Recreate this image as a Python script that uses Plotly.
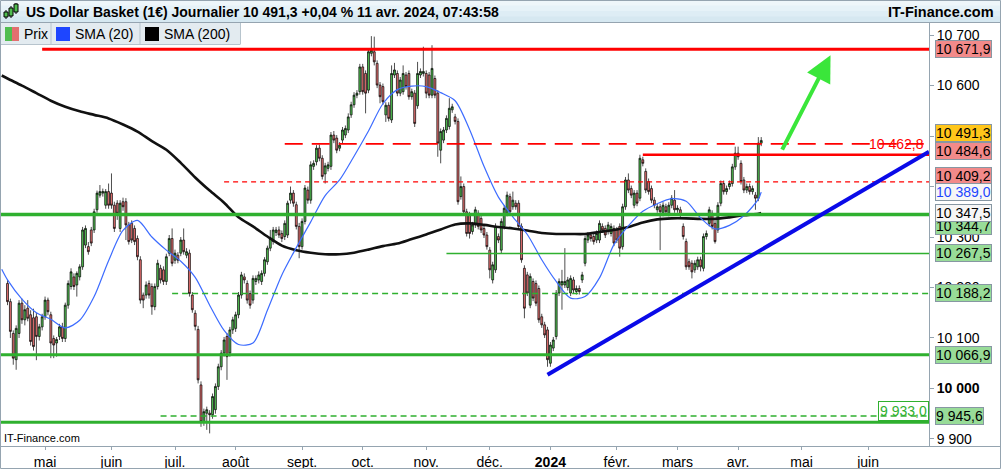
import pandas as pd
import plotly.graph_objects as go

# ---------------- data ----------------
FIRST_DAY = "2023-04-12"
LAST_DAY = "2024-04-11"
X_RANGE = ["2023-04-07 09:36", "2024-07-02 02:24"]
Y_RANGE = [9886, 10724]

open_ = [
    10208, 10172, 10109, 10057, 10109, 10169, 10136, 10159, 10146, 10140,
    10142, 10103, 10122, 10142, 10175, 10146, 10099, 10090, 10103, 10122,
    10099, 10165, 10202, 10221, 10205, 10221, 10241, 10284, 10281, 10314,
    10314, 10354, 10383, 10387, 10363, 10390, 10387, 10363, 10367, 10317,
    10370, 10370, 10324, 10327, 10317, 10297, 10255, 10185, 10185, 10208,
    10202, 10162, 10202, 10238, 10235, 10212, 10268, 10297, 10254, 10264,
    10268, 10294, 10264, 10268, 10185, 10149, 10117, 10007, 9934, 9951,
    9951, 9948, 9958, 10004, 10043, 10070, 10103, 10070, 10116, 10119,
    10146, 10185, 10221, 10208, 10188, 10175, 10212, 10215, 10212,
    10228, 10251, 10278, 10291, 10309, 10314, 10307, 10301, 10304, 10373,
    10387, 10364, 10321, 10281, 10331, 10393, 10373, 10440, 10449, 10476,
    10456, 10425, 10436, 10440, 10502, 10496, 10476, 10492, 10502, 10512,
    10542, 10562, 10581, 10588, 10637, 10624, 10591, 10664, 10667, 10644,
    10601, 10598, 10542, 10561, 10532, 10621, 10624, 10585, 10588, 10621,
    10624, 10578, 10585, 10560, 10621, 10624, 10624, 10621, 10581, 10614,
    10585, 10472, 10492, 10512, 10519, 10552, 10538, 10529, 10380, 10400,
    10350, 10344, 10311, 10324, 10347, 10337, 10317, 10304, 10274, 10215,
    10235, 10301, 10274, 10321, 10347, 10380, 10360, 10367, 10367, 10321,
    10238, 10225, 10165, 10212, 10208, 10198, 10142, 10126, 10116, 10050,
    10080, 10103, 10189, 10205, 10205, 10200, 10189, 10215, 10192, 10198,
    10215, 10248, 10294, 10304, 10301, 10294, 10294, 10321, 10317, 10311,
    10307, 10317, 10314, 10321, 10281, 10360, 10413, 10396, 10363, 10387,
    10377, 10453, 10430, 10410, 10396, 10373, 10354, 10360, 10347, 10360,
    10347, 10363, 10373, 10354, 10354, 10321, 10291, 10251, 10248, 10235,
    10241, 10255, 10238, 10301, 10327, 10347, 10327, 10314, 10367, 10406,
    10390, 10400, 10406, 10439, 10466, 10446, 10413, 10393, 10400, 10390,
    10383, 10377, 10486,
]
high = [
    10215, 10178, 10115, 10125, 10175, 10178, 10165, 10175, 10155, 10158,
    10150, 10128, 10148, 10182, 10180, 10152, 10105, 10102, 10128, 10130,
    10170, 10214, 10238, 10228, 10232, 10246, 10320, 10323, 10290, 10320,
    10356, 10392, 10403, 10396, 10395, 10406, 10426, 10370, 10373, 10373,
    10378, 10377, 10330, 10333, 10323, 10303, 10262, 10190, 10212, 10214,
    10208, 10208, 10255, 10245, 10242, 10267, 10304, 10317, 10275, 10270,
    10300, 10317, 10278, 10275, 10191, 10155, 10124, 10014, 9960, 9964,
    9957, 9990, 10010, 10049, 10076, 10102, 10110, 10122, 10142, 10152,
    10191, 10231, 10228, 10214, 10194, 10224, 10224, 10232, 10234,
    10260, 10283, 10314, 10320, 10320, 10321, 10313, 10333, 10372, 10400,
    10393, 10370, 10328, 10337, 10403, 10400, 10450, 10452, 10482, 10483,
    10462, 10447, 10449, 10508, 10510, 10502, 10488, 10518, 10521, 10545,
    10568, 10587, 10591, 10643, 10643, 10630, 10673, 10698, 10697, 10650,
    10607, 10604, 10567, 10567, 10640, 10645, 10630, 10617, 10640, 10627,
    10630, 10594, 10591, 10647, 10634, 10677, 10630, 10627, 10680, 10620,
    10591, 10515, 10518, 10541, 10575, 10564, 10544, 10535, 10420, 10406,
    10356, 10350, 10330, 10360, 10353, 10343, 10323, 10310, 10280, 10251,
    10327, 10307, 10337, 10363, 10390, 10386, 10390, 10373, 10373, 10327,
    10244, 10231, 10228, 10218, 10214, 10204, 10148, 10132, 10122, 10092,
    10102, 10195, 10218, 10235, 10278, 10221, 10224, 10221, 10204, 10204,
    10231, 10303, 10310, 10310, 10307, 10313, 10333, 10327, 10323, 10330,
    10327, 10323, 10320, 10327, 10366, 10419, 10426, 10402, 10393, 10393,
    10463, 10459, 10436, 10416, 10402, 10379, 10366, 10366, 10369, 10366,
    10369, 10383, 10393, 10363, 10360, 10327, 10297, 10257, 10254, 10254,
    10261, 10261, 10307, 10313, 10360, 10353, 10333, 10369, 10412, 10412,
    10402, 10412, 10445, 10479, 10479, 10452, 10419, 10406, 10406, 10402,
    10389, 10498, 10498,
]
low = [
    10165, 10100, 10047, 10037, 10100, 10128, 10125, 10133, 10085, 10075,
    10056, 10095, 10115, 10136, 10145, 10060, 10060, 10063, 10096, 10092,
    10092, 10158, 10196, 10195, 10182, 10214, 10235, 10278, 10265, 10282,
    10308, 10348, 10378, 10380, 10356, 10356, 10356, 10310, 10334, 10310,
    10352, 10294, 10285, 10288, 10284, 10254, 10168, 10159, 10178, 10178,
    10146, 10155, 10196, 10208, 10205, 10205, 10262, 10242, 10247, 10248,
    10262, 10265, 10258, 10182, 10150, 10115, 10010, 9924, 9926, 9918,
    9911, 9940, 9950, 9997, 10036, 10063, 10017, 10063, 10108, 10112,
    10139, 10178, 10208, 10168, 10158, 10168, 10205, 10208, 10205,
    10222, 10245, 10272, 10285, 10302, 10298, 10290, 10294, 10298, 10366,
    10360, 10315, 10258, 10275, 10325, 10366, 10366, 10433, 10442, 10450,
    10414, 10406, 10430, 10433, 10486, 10466, 10470, 10486, 10496, 10506,
    10536, 10556, 10575, 10582, 10582, 10545, 10585, 10658, 10640, 10595,
    10565, 10562, 10528, 10529, 10526, 10615, 10579, 10579, 10582, 10592,
    10572, 10572, 10518, 10554, 10615, 10618, 10575, 10575, 10575, 10575,
    10459, 10446, 10486, 10506, 10513, 10546, 10523, 10364, 10374, 10344,
    10301, 10297, 10305, 10318, 10315, 10308, 10298, 10275, 10218, 10208,
    10229, 10288, 10268, 10315, 10341, 10344, 10354, 10354, 10315, 10249,
    10139, 10183, 10159, 10173, 10163, 10130, 10120, 10100, 10043, 10043,
    10074, 10097, 10183, 10156, 10199, 10194, 10183, 10189, 10186, 10186,
    10209, 10242, 10288, 10291, 10285, 10288, 10288, 10308, 10298, 10305,
    10301, 10282, 10288, 10261, 10275, 10354, 10387, 10377, 10357, 10361,
    10371, 10440, 10387, 10384, 10367, 10357, 10348, 10274, 10341, 10344,
    10341, 10357, 10348, 10348, 10338, 10295, 10235, 10235, 10218, 10229,
    10235, 10232, 10232, 10295, 10321, 10315, 10287, 10308, 10361, 10384,
    10384, 10394, 10400, 10433, 10453, 10404, 10387, 10387, 10384, 10384,
    10354, 10371, 10480,
]
close = [
    10172, 10113, 10060, 10119, 10169, 10136, 10156, 10139, 10093, 10083,
    10103, 10122, 10142, 10175, 10152, 10090, 10086, 10097, 10122, 10099,
    10165, 10208, 10231, 10202, 10228, 10241, 10314, 10317, 10271, 10288,
    10350, 10387, 10390, 10390, 10390, 10363, 10363, 10317, 10347, 10367,
    10360, 10324, 10291, 10294, 10291, 10261, 10175, 10175, 10205, 10185,
    10162, 10202, 10248, 10215, 10212, 10261, 10297, 10248, 10268, 10254,
    10294, 10271, 10271, 10188, 10156, 10123, 10017, 9934, 9954, 9958,
    9948, 9984, 10004, 10043, 10070, 10096, 10063, 10116, 10136, 10146,
    10185, 10225, 10215, 10175, 10165, 10218, 10218, 10225, 10228,
    10255, 10278, 10297, 10314, 10314, 10304, 10297, 10327, 10367, 10387,
    10367, 10321, 10281, 10331, 10397, 10373, 10443, 10446, 10476, 10456,
    10420, 10441, 10443, 10502, 10492, 10472, 10482, 10512, 10515, 10538,
    10562, 10581, 10585, 10637, 10588, 10585, 10667, 10670, 10647, 10601,
    10578, 10568, 10561, 10535, 10624, 10631, 10585, 10611, 10624, 10598,
    10578, 10588, 10525, 10624, 10628, 10628, 10585, 10581, 10634, 10581,
    10486, 10509, 10512, 10535, 10555, 10558, 10529, 10370, 10400, 10350,
    10307, 10307, 10324, 10354, 10321, 10314, 10304, 10281, 10235, 10245,
    10321, 10294, 10331, 10357, 10383, 10350, 10373, 10360, 10321, 10255,
    10159, 10189, 10222, 10179, 10169, 10136, 10126, 10106, 10057, 10086,
    10096, 10189, 10212, 10212, 10212, 10215, 10218, 10195, 10198, 10192,
    10225, 10297, 10304, 10297, 10291, 10307, 10327, 10314, 10304, 10324,
    10321, 10288, 10294, 10278, 10360, 10413, 10393, 10383, 10387, 10367,
    10456, 10446, 10393, 10390, 10373, 10363, 10360, 10350, 10363, 10350,
    10363, 10377, 10354, 10357, 10344, 10301, 10241, 10241, 10231, 10248,
    10255, 10241, 10301, 10307, 10354, 10321, 10291, 10363, 10406, 10390,
    10396, 10406, 10439, 10466, 10459, 10410, 10393, 10400, 10390, 10396,
    10377, 10486, 10491.3,
]

# moving averages (weekly samples)
SMA_FIRST = "2023-04-10"
sma20 = [
    10236, 10215, 10177, 10150, 10137, 10120, 10135, 10182, 10253, 10313,
    10333, 10300, 10274, 10252, 10220, 10165, 10115, 10087, 10090, 10155,
    10225, 10279, 10330, 10382, 10413, 10460, 10510, 10564, 10592, 10599,
    10598, 10586, 10570, 10513, 10440, 10379, 10340, 10305, 10255, 10212,
    10179, 10182, 10219, 10285, 10322, 10351, 10366, 10376, 10371, 10338,
    10316, 10323, 10342, 10375, 10389.0,
]
sma200 = [
    10620, 10614, 10600, 10585, 10570, 10558, 10549, 10542, 10535, 10523,
    10509, 10490, 10473, 10447, 10418, 10392, 10368, 10339, 10321, 10301,
    10283, 10274, 10269, 10266, 10266, 10269, 10275, 10282, 10287, 10296,
    10305, 10315, 10325, 10327, 10324, 10320, 10317, 10313, 10308, 10306,
    10306, 10306, 10310, 10314, 10320, 10329, 10335, 10337, 10337, 10336,
    10336, 10339, 10343, 10346, 10347.5,
]

# horizontal levels (value, first date; None = whole width)
level_values = [10671.9, 10484.6, 10462.8, 10409.2, 10344.7, 10267.5, 10188.2, 10066.9, 9945.6, 9933.0]
level_starts = ["2023-04-28", "2023-08-24", "2024-02-14", "2023-07-26", None,
                "2023-11-10", "2023-06-30", None, "2023-06-26", None]

trend_start_date, trend_start_value = "2023-12-29", 10027.0
trend_end_value = 10469.0

arrow_from_date, arrow_from_value = "2024-04-22", 10470.0
arrow_to_date, arrow_to_value = "2024-05-15", 10660.0

month_ticks = ["2023-05-01", "2023-06-01", "2023-07-03", "2023-08-01", "2023-09-01",
               "2023-10-02", "2023-11-01", "2023-12-01", "2024-01-01", "2024-02-01",
               "2024-03-01", "2024-04-01", "2024-05-01", "2024-06-03"]
month_labels = ["mai", "juin", "juil.", "août", "sept.", "oct.", "nov.", "déc.",
                "<b>2024</b>", "févr.", "mars", "avr.", "mai", "juin"]
price_ticks = [9900, 10000, 10100, 10200, 10300, 10400, 10500, 10600, 10700]

# values shown in boxes on the price axis
box_values = [10671.9, 10491.3, 10484.6, 10409.2, 10389.0, 10344.7, 10347.5, 10267.5, 10188.2, 10066.9, 9945.6]
box_kinds = ["red", "last", "red", "red", "sma20", "green", "sma200", "green", "green", "green", "green"]

# ---------------- styling ----------------
W, H = 1001, 469
ML, MR, MT, MB = 0, 72, 23, 23
PW, PH = W - ML - MR, H - MT - MB
FONT = "Liberation Sans, Arial, sans-serif"
GRAY = "#95a4b0"
GREEN_BODY = "#50bd50"
RED_BODY = "#e36f6f"
GREEN_LINE = "#2fb02f"
RED_LINE = "#ff0000"

def px(x):
    return (x - ML) / PW

def py(y):
    return (H - MB - y) / PH

def fr(v, dec=1):
    s = f"{v:,.{dec}f}"
    return s.replace(",", " ").replace(".", ",")

dates = pd.bdate_range(FIRST_DAY, LAST_DAY)
assert len(dates) == len(open_) == len(high) == len(low) == len(close), (len(dates), len(open_), len(high), len(low), len(close))
sma_dates = [SMA_FIRST] + list(pd.date_range(FIRST_DAY, periods=53, freq="7D").strftime("%Y-%m-%d")) + [LAST_DAY]
assert len(sma_dates) == len(sma20) == len(sma200)

fig = go.Figure()
fig.add_trace(go.Candlestick(
    x=dates, open=open_, high=high, low=low, close=close,
    increasing=dict(line=dict(color="#000000", width=0.7), fillcolor=GREEN_BODY),
    decreasing=dict(line=dict(color="#000000", width=0.7), fillcolor=RED_BODY),
    whiskerwidth=0, hoverinfo="skip", showlegend=False))
fig.add_trace(go.Scatter(x=sma_dates, y=sma200, mode="lines", hoverinfo="skip",
                         line=dict(color="#111111", width=2.6, shape="spline", smoothing=0.8)))
fig.add_trace(go.Scatter(x=sma_dates, y=sma20, mode="lines", hoverinfo="skip",
                         line=dict(color="#3d6cff", width=1.2, shape="spline", smoothing=0.8)))

level_style = [
    (RED_LINE, 3, "solid"),
    (RED_LINE, 1.6, "18px,9px"),
    (RED_LINE, 2.5, "solid"),
    (RED_LINE, 1.3, "5px,4px"),
    (GREEN_LINE, 3.5, "solid"),
    (GREEN_LINE, 1.5, "solid"),
    (GREEN_LINE, 1.5, "6px,4px"),
    (GREEN_LINE, 3, "solid"),
    (GREEN_LINE, 1.5, "6px,4px"),
    (GREEN_LINE, 3, "solid"),
]
shapes = []
for v, s, (c, w, d) in zip(level_values, level_starts, level_style):
    shapes.append(dict(type="line", xref="x", yref="y", x0=s or X_RANGE[0], x1=X_RANGE[1],
                       y0=v, y1=v, line=dict(color=c, width=w, dash=d)))
shapes.append(dict(type="line", xref="x", yref="y", x0=trend_start_date, y0=trend_start_value,
                   x1=X_RANGE[1], y1=trend_end_value, line=dict(color="#0a0ae8", width=4)))

# header / frame decoration (paper coords from pixels)
def prect(x0, y0, x1, y1, fill, line=None, lw=0):
    return dict(type="rect", xref="paper", yref="paper", x0=px(x0), x1=px(x1), y0=py(y1), y1=py(y0),
                fillcolor=fill, line=dict(color=line or fill, width=lw), layer="above")

def pline(x0, y0, x1, y1, color=GRAY, w=1):
    return dict(type="line", xref="paper", yref="paper", x0=px(x0), x1=px(x1), y0=py(y0), y1=py(y1),
                line=dict(color=color, width=w), layer="above")

grad = ["#eef6fa", "#e6f2f8", "#deedf5", "#d6e8f1"]
for k, c in enumerate(grad):
    shapes.append(prect(0, k * 5.5, W, (k + 1) * 5.5 + 0.5, c))
shapes.append(pline(0, 22.5, W, 22.5))
shapes.append(prect(0, 23, 240, 44, "#e3ebf0"))
shapes.append(pline(0, 44.5, 240, 44.5, "#b7c4cd"))
shapes.append(pline(240.5, 23, 240.5, 44.5, "#b7c4cd"))
shapes.append(pline(51, 23, 51, 44.5, "#b7c4cd"))
shapes.append(pline(140, 23, 140, 44.5, "#b7c4cd"))
# legend icons
shapes.append(prect(5, 27, 12, 41, GREEN_BODY))
shapes.append(prect(12, 27, 19, 41, RED_BODY))
shapes.append(prect(56, 27, 70, 41, "#1e46ff"))
shapes.append(prect(145, 27, 159, 41, "#000000"))
# title icon (small candles)
for (cx, top, bot, wt, wb) in [(6, 12, 17, 10, 19), (11, 8, 16, 6, 18), (16, 4, 12, 3, 14)]:
    shapes.append(pline(cx, wt, cx, wb, "#000000", 1))
    shapes.append(prect(cx - 2, top, cx + 2, bot, GREEN_BODY, "#000000", 1))
# bottom band line and outer frame
shapes.append(pline(0, 446.5, W, 446.5))
shapes.append(dict(type="rect", xref="paper", yref="paper", x0=px(0.5), x1=px(W - 0.5),
                   y0=py(H - 0.5), y1=py(0.5), line=dict(color=GRAY, width=1), layer="above"))

annotations = []
title = (f"<b>US Dollar Basket (1€) Journalier {fr(close[-1])} +0,04 % 11 avr. 2024, 07:43:58</b>")
annotations.append(dict(xref="paper", yref="paper", x=px(24), y=py(11.5), xanchor="left", yanchor="middle",
                        text=title, showarrow=False, font=dict(size=14, color="black")))
annotations.append(dict(xref="paper", yref="paper", x=px(996), y=py(11.5), xanchor="right", yanchor="middle",
                        text="<b>IT-Finance.com</b>", showarrow=False, font=dict(size=14.5, color="black")))
for txt, x in [("Prix", 22), ("SMA (20)", 73), ("SMA (200)", 162)]:
    annotations.append(dict(xref="paper", yref="paper", x=px(x), y=py(34), xanchor="left", yanchor="middle",
                            text=txt, showarrow=False, font=dict(size=14, color="black")))
annotations.append(dict(xref="paper", yref="paper", x=px(2), y=py(438), xanchor="left", yanchor="middle",
                        text="IT-Finance.com", showarrow=False, font=dict(size=11, color="black")))

box_style = {
    "red": ("#f28a8a", "black"),
    "last": ("#ffc61a", "black"),
    "green": ("#98dc98", "black"),
    "sma20": ("#f6f6f6", "#1e46ff"),
    "sma200": ("#f6f6f6", "black"),
}
box_shift = [0, 7, -7, 6, 0, -12, 0, 0, 0, 0, 0]
for v, kind, sh in zip(box_values, box_kinds, box_shift):
    bg, fc = box_style[kind]
    annotations.append(dict(xref="paper", yref="y", x=px(935), y=v, xanchor="left", yanchor="middle",
                            yshift=sh, text=fr(v), showarrow=False, bgcolor=bg, bordercolor="#8797a3",
                            borderwidth=1, borderpad=0, font=dict(size=14, color=fc)))
# level captions on the chart
annotations.append(dict(xref="paper", yref="y", x=px(926), y=level_values[2], xanchor="right",
                        yanchor="bottom", yshift=1, text=fr(level_values[2]), showarrow=False,
                        font=dict(size=14, color=RED_LINE)))
annotations.append(dict(xref="paper", yref="y", x=px(929), y=level_values[9], xanchor="right",
                        yanchor="bottom", yshift=1, text=fr(level_values[9]), showarrow=False,
                        bordercolor=GREEN_LINE, borderwidth=1, borderpad=1,
                        font=dict(size=14, color=GREEN_LINE)))
# green arrow
annotations.append(dict(xref="x", yref="y", x=arrow_to_date, y=arrow_to_value,
                        axref="x", ayref="y", ax=arrow_from_date, ay=arrow_from_value,
                        text="", showarrow=True, arrowhead=2, arrowsize=1.3, arrowwidth=4,
                        arrowcolor="#3ae63a", standoff=0))

fig.update_layout(
    width=W, height=H, margin=dict(l=ML, r=MR, t=MT, b=MB, pad=0),
    paper_bgcolor="white", plot_bgcolor="white", showlegend=False,
    font=dict(family=FONT, size=14, color="black"),
    boxgap=0.05,
    shapes=shapes, annotations=annotations,
    xaxis=dict(type="date", range=X_RANGE, rangebreaks=[dict(bounds=["sat", "mon"])],
               rangeslider=dict(visible=False), tickvals=month_ticks, ticktext=month_labels,
               ticks="outside", ticklen=3, tickcolor=GRAY, showline=False, showgrid=False,
               zeroline=False, automargin=False, tickfont=dict(size=14, color="black")),
    yaxis=dict(side="right", range=Y_RANGE, tickvals=price_ticks,
               ticktext=[("<b>%s</b>" % fr(t, 0)) if t == 10000 else fr(t, 0) for t in price_ticks],
               ticks="outside", ticklen=4, tickcolor=GRAY, showline=True, linecolor=GRAY, linewidth=1,
               showgrid=False, zeroline=False, automargin=False, tickfont=dict(size=14, color="black")),
)

fig.write_html("out.html", config={"displayModeBar": False, "staticPlot": True},
               post_script="document.body.style.margin='0px';document.body.style.padding='0px';")
